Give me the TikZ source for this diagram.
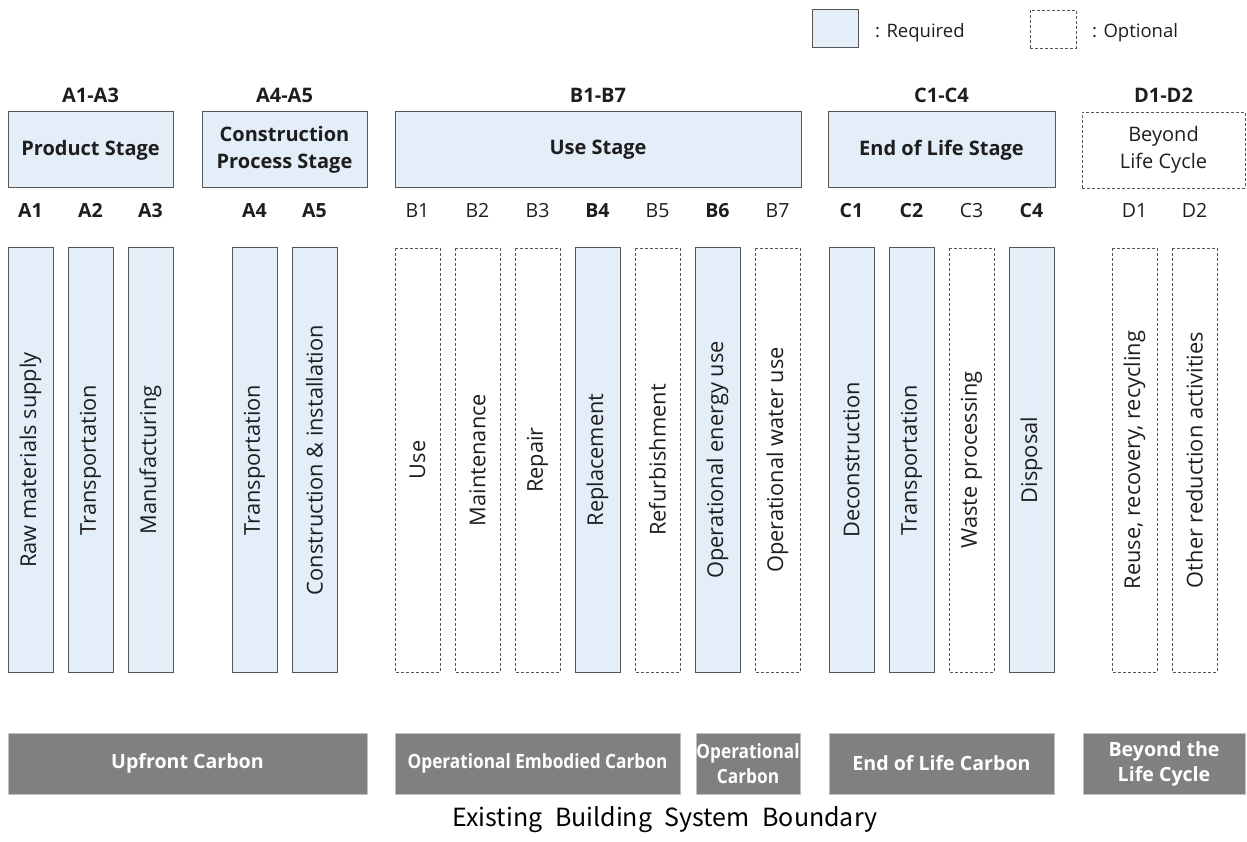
\documentclass[tikz,border=0pt]{standalone}
\usepackage{fontspec}
\setmainfont{Open Sans}
\newfontfamily\condfont{Open Sans}[FakeStretch=0.88]
\newfontfamily\capfont{Noto Sans CJK KR}
\definecolor{reqfill}{HTML}{E3EEF9}
\definecolor{edgec}{HTML}{555555}
\definecolor{barfill}{HTML}{808080}
\definecolor{ink}{HTML}{1E1E1E}
\tikzset{
  req/.style={draw=edgec, fill=reqfill, line width=1pt, inner sep=0pt},
  opt/.style={draw=edgec, dash pattern=on 3pt off 2pt, line width=0.9pt, inner sep=0pt},
  colbox/.style={minimum width=424pt, minimum height=45pt, rotate=90, text=ink,
    font=\fontsize{21.8}{25}\selectfont},
  hdr/.style={minimum height=76pt, text=ink, align=center,
    font=\bfseries\fontsize{20}{27}\selectfont},
  fixt/.style={text height=14pt, text depth=4pt, inner sep=0pt},
  rng/.style={fixt, text=ink, font=\bfseries\fontsize{20}{23}\selectfont},
  code/.style={fixt, text=ink, font=\fontsize{19.5}{23}\selectfont},
  codeb/.style={fixt, text=ink, font=\bfseries\fontsize{19.5}{23}\selectfont},
  bar/.style={fill=barfill, draw=black!25, line width=0.8pt, minimum height=61pt,
    inner sep=0pt, text=white, align=center, font=\bfseries\fontsize{19.6}{25}\selectfont},
  cbar/.style={bar, font=\condfont\bfseries\fontsize{19.6}{25}\selectfont},
  legtxt/.style={fixt, anchor=west, text=ink, font=\fontsize{18.5}{22}\selectfont}
}
\begin{document}
\begin{tikzpicture}[x=1pt,y=-1pt]
\useasboundingbox (0,0) rectangle (1247,842);
% legend
\node[req, minimum width=46pt, minimum height=38pt] (lreq) at (835,29) {};
\node[legtxt] (lreqt) at (875,33) {: Required};
\node[opt, minimum width=46pt, minimum height=38pt] (lopt) at (1053,29) {};
\node[legtxt] (loptt) at (1092,33) {: Optional};
% range labels
\node[rng] (rA13) at (90.5,98) {A1-A3};
\node[rng] (rA45) at (284.5,98) {A4-A5};
\node[rng] (rB17) at (598,98) {B1-B7};
\node[rng] (rC14) at (941.5,98) {C1-C4};
\node[rng] (rD12) at (1163.5,98) {D1-D2};
% stage headers
\node[req, hdr, minimum width=165pt] (hA13) at (90.5,150) {Product Stage};
\node[req, hdr, minimum width=165pt] (hA45) at (284.5,150) {Construction\\Process Stage};
\node[req, hdr, minimum width=406pt] (hB17) at (598,150) {Use Stage};
\node[req, hdr, minimum width=227pt] (hC14) at (941.5,150) {End of Life Stage};
\node[opt, hdr, minimum width=163pt, font=\fontsize{20}{27}\selectfont] (hD12) at (1163.5,150) {Beyond\\Life Cycle};
% module codes
\node[codeb] (kA1) at (30.5,213) {A1};
\node[codeb] (kA2) at (90.5,213) {A2};
\node[codeb] (kA3) at (150.5,213) {A3};
\node[codeb] (kA4) at (254.5,213) {A4};
\node[codeb] (kA5) at (314.5,213) {A5};
\node[code] (kB1) at (417.5,213) {B1};
\node[code] (kB2) at (477.5,213) {B2};
\node[code] (kB3) at (537.5,213) {B3};
\node[codeb] (kB4) at (597.5,213) {B4};
\node[code] (kB5) at (657.5,213) {B5};
\node[codeb] (kB6) at (717.5,213) {B6};
\node[code] (kB7) at (777.5,213) {B7};
\node[codeb] (kC1) at (851.5,213) {C1};
\node[codeb] (kC2) at (911.5,213) {C2};
\node[code] (kC3) at (971.5,213) {C3};
\node[codeb] (kC4) at (1031.5,213) {C4};
\node[code] (kD1) at (1134.5,213) {D1};
\node[code] (kD2) at (1194.5,213) {D2};
% module columns
\node[req, colbox] (cA1) at (30.5,460) {Raw materials supply};
\node[req, colbox] (cA2) at (90.5,460) {Transportation};
\node[req, colbox] (cA3) at (150.5,460) {Manufacturing};
\node[req, colbox] (cA4) at (254.5,460) {Transportation};
\node[req, colbox] (cA5) at (314.5,460) {Construction \& installation};
\node[opt, colbox] (cB1) at (417.5,460) {Use};
\node[opt, colbox] (cB2) at (477.5,460) {Maintenance};
\node[opt, colbox] (cB3) at (537.5,460) {Repair};
\node[req, colbox] (cB4) at (597.5,460) {Replacement};
\node[opt, colbox] (cB5) at (657.5,460) {Refurbishment};
\node[req, colbox] (cB6) at (717.5,460) {Operational energy use};
\node[opt, colbox] (cB7) at (777.5,460) {Operational water use};
\node[req, colbox] (cC1) at (851.5,460) {Deconstruction};
\node[req, colbox] (cC2) at (911.5,460) {Transportation};
\node[opt, colbox] (cC3) at (971.5,460) {Waste processing};
\node[req, colbox] (cC4) at (1031.5,460) {Disposal};
\node[opt, colbox] (cD1) at (1134.5,460) {Reuse, recovery, recycling};
\node[opt, colbox] (cD2) at (1194.5,460) {Other reduction activities};
% carbon bars
\node[bar, minimum width=359pt] (bUp) at (187.5,763.5) {Upfront Carbon};
\node[cbar, minimum width=285pt] (bOE) at (537.5,763.5) {Operational Embodied Carbon};
\node[cbar, minimum width=104pt] (bOC) at (748,763.5) {Operational\\Carbon};
\node[bar, minimum width=225pt] (bEoL) at (941.5,763.5) {End of Life Carbon};
\node[bar, minimum width=162pt] (bBy) at (1164,763.5) {Beyond the\\Life Cycle};
% caption
\node[text=black, font=\capfont\fontsize{25}{30}\selectfont] (cap) at (665,820)
  {Existing\hspace{0.5em}Building\hspace{0.5em}System\hspace{0.5em}Boundary};
\end{tikzpicture}
\end{document}
